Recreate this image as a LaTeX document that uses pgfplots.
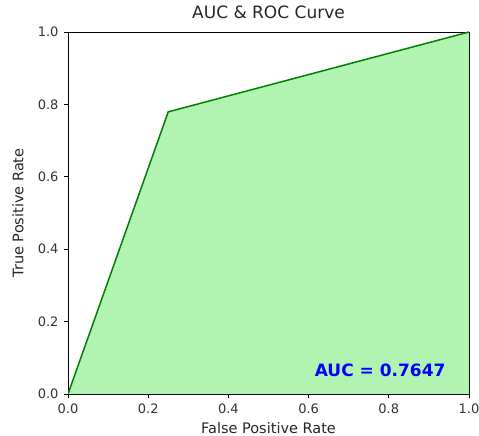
\documentclass[border=0pt]{standalone}
\usepackage{fontspec}
\setmainfont{DejaVu Sans}
\usepackage{pgfplots}
\pgfplotsset{compat=1.18}
\definecolor{rocline}{HTML}{008000}
\definecolor{rocfill}{HTML}{90EE90}
\definecolor{auctext}{HTML}{0000FF}

\begin{document}
\begin{tikzpicture}
% frame matching the reference margins around the 401x362 axis
\path[use as bounding box] (-68pt,-42pt) rectangle (411pt,394pt);
\begin{axis}[
  at={(0pt,0pt)}, anchor=south west,
  scale only axis,
  width=401pt, height=362pt,
  xmin=0, xmax=1, ymin=0, ymax=1,
  xtick={0,0.2,...,1.0}, ytick={0,0.2,...,1.0},
  /pgf/number format/.cd, fixed, fixed zerofill, precision=1, assume math mode=true,
  /pgfplots/.cd,
  tick label style={font=\fontsize{13}{15}\selectfont, text=black!80},
  xticklabel style={yshift=-2pt},
  yticklabel style={xshift=-2pt},
  label style={font=\fontsize{14.5}{17}\selectfont, text=black!85},
  title style={font=\fontsize{17}{20}\selectfont, text=black!85, at={(0.5,1)}, anchor=center, yshift=14pt},
  title={AUC \& ROC Curve},
  xlabel={False Positive Rate},
  ylabel={True Positive Rate},
  xlabel style={at={(0.5,0)}, anchor=center, yshift=-34pt},
  ylabel style={at={(0,0.5)}, anchor=center, rotate=0, yshift=50pt},
  tick align=outside,
  tick style={black, line width=0.8pt},
  major tick length=4pt,
  axis line style={line width=0.8pt},
  xtick pos=bottom, ytick pos=left,
]
\addplot[draw=none, fill=rocfill, fill opacity=0.7]
  coordinates {(0,0) (0.25,0.7794) (1,1)} \closedcycle;
\addplot[color=rocline, line width=1.5pt]
  coordinates {(0,0) (0.25,0.7794) (1,1)};
\node[anchor=east, text=auctext, font=\fontsize{17}{20}\selectfont\bfseries]
  at (axis cs:0.95,0.066) {AUC = 0.7647};
\end{axis}
\end{tikzpicture}
\end{document}
